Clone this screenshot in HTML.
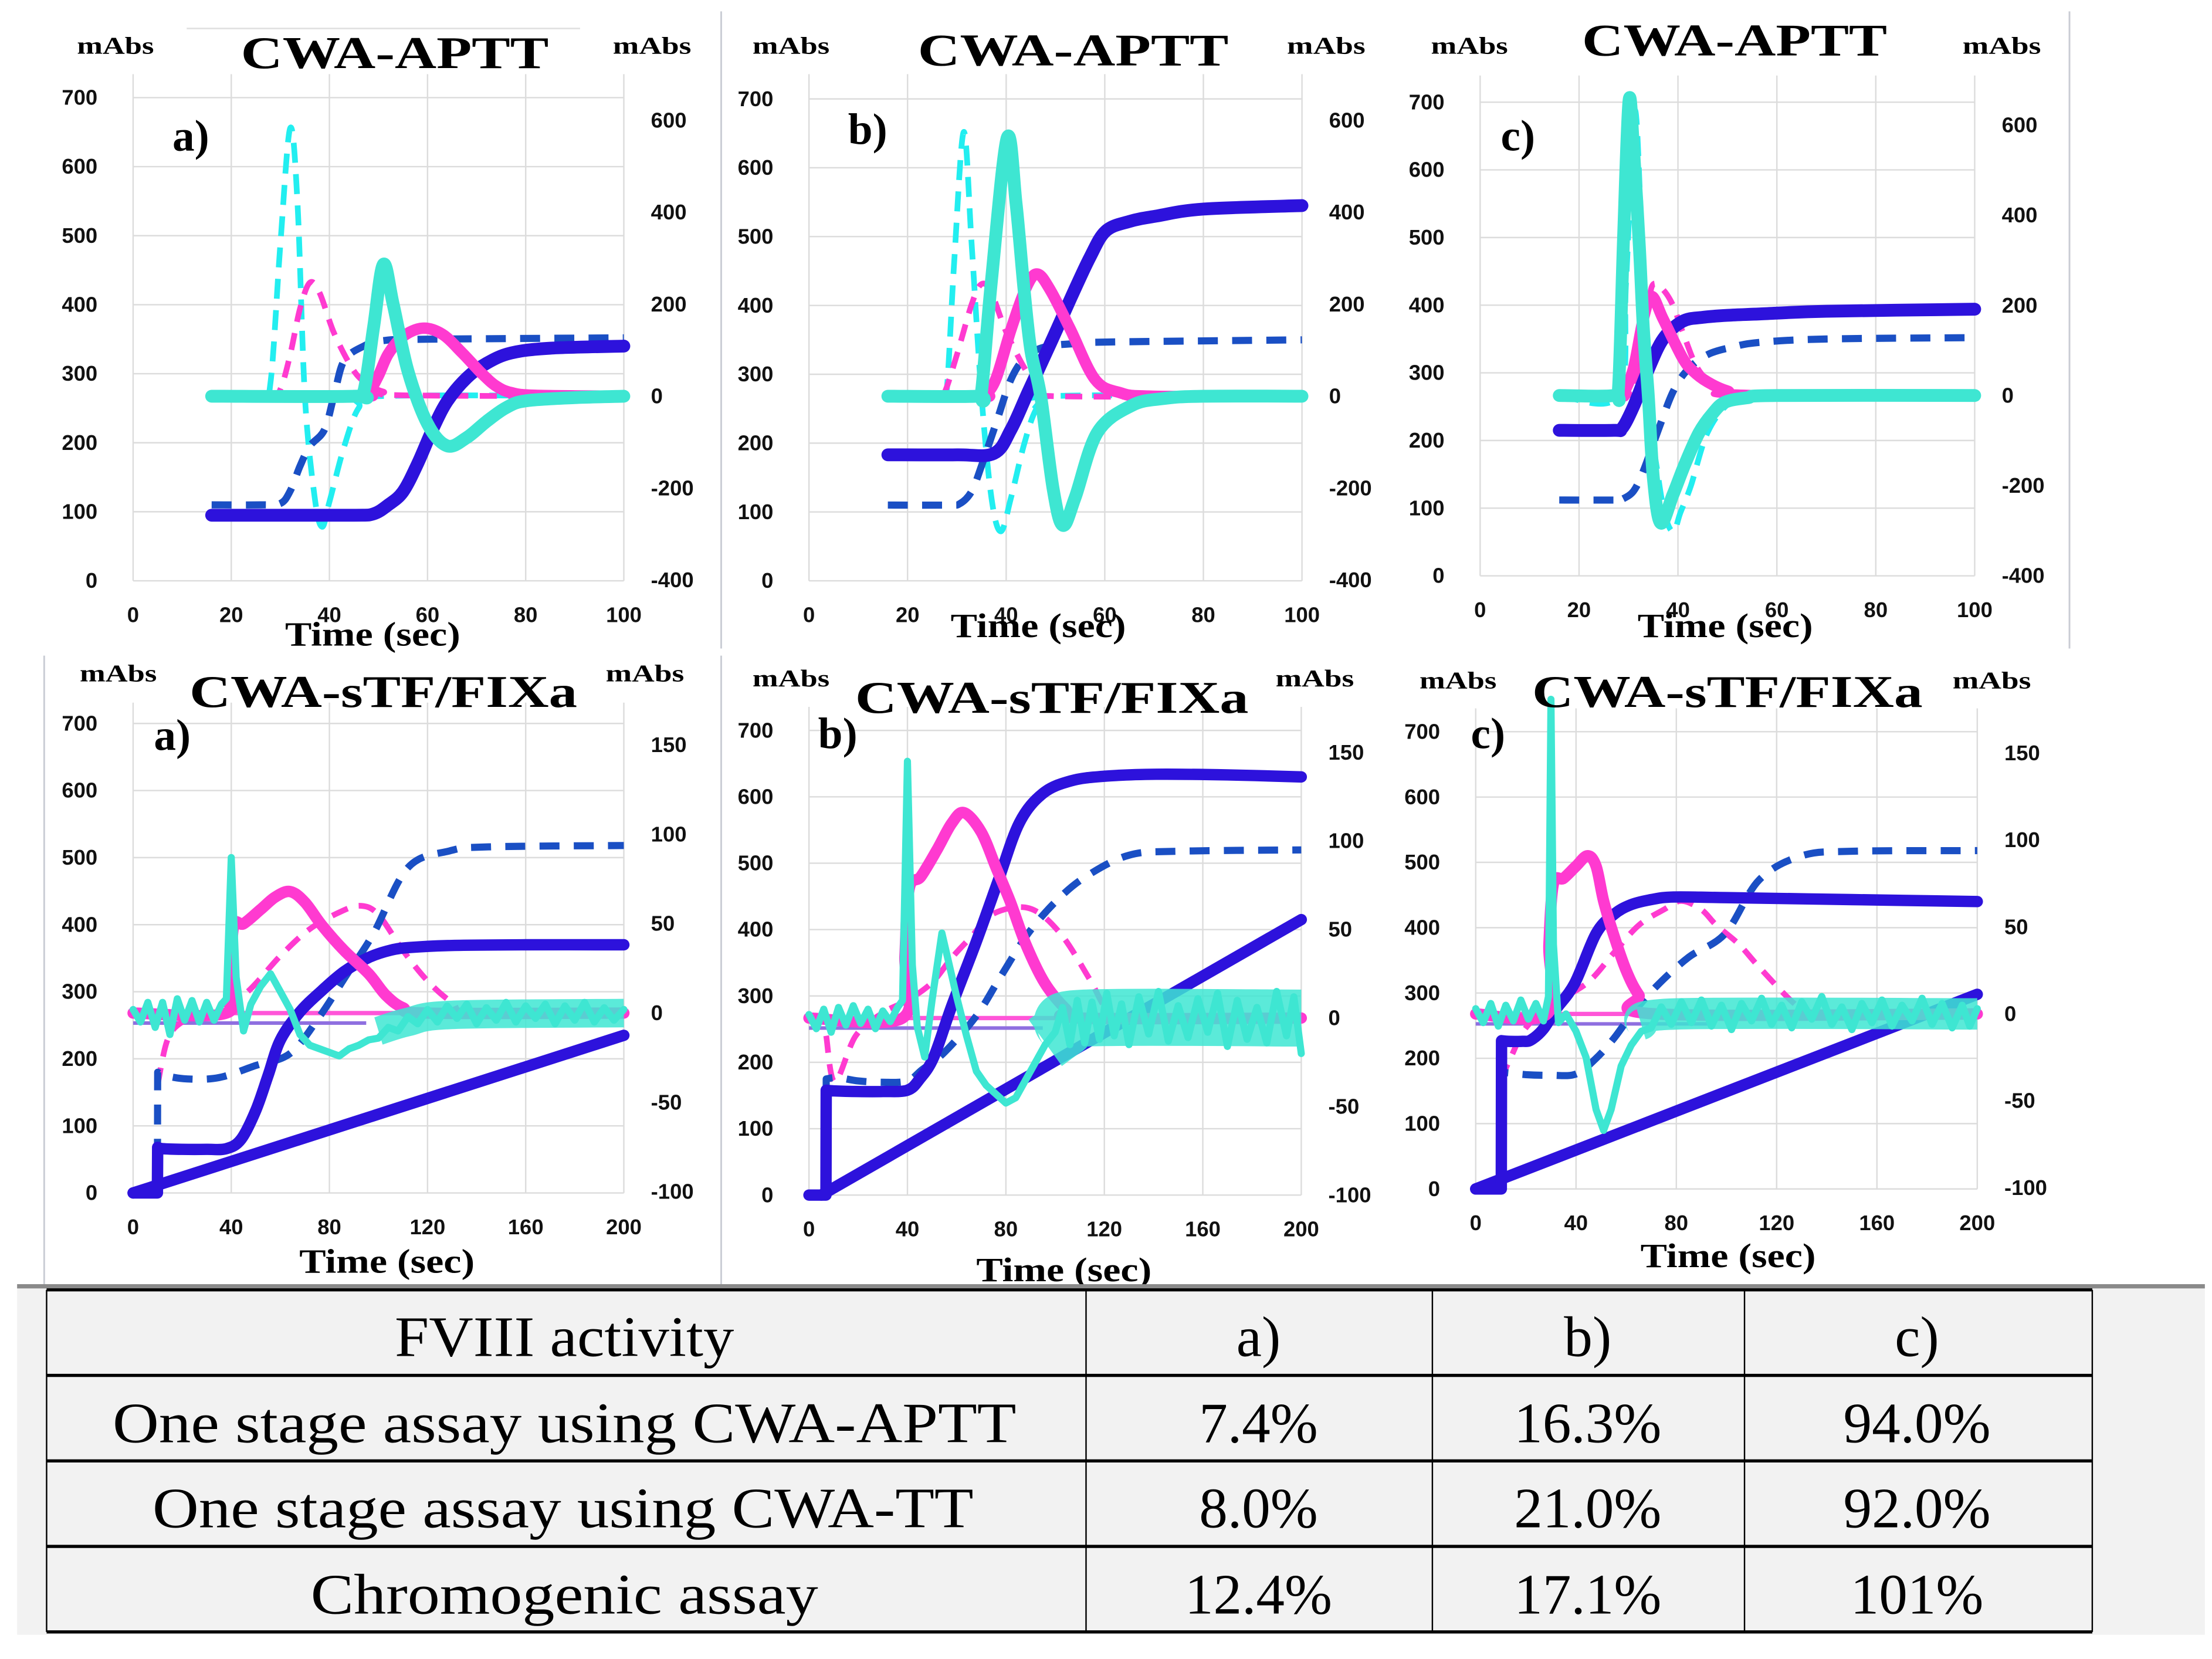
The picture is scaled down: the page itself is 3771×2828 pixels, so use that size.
<!DOCTYPE html>
<html><head><meta charset="utf-8"><style>
html,body{margin:0;padding:0;background:#fff;}
svg{display:block;}
</style></head><body>
<svg id="fig" xmlns="http://www.w3.org/2000/svg" width="3771" height="2828" viewBox="0 0 1552 1164" preserveAspectRatio="none">
<rect x="0" y="0" width="1552" height="1164" fill="#ffffff"/>
<g id="frames" stroke="#c9ccd4" stroke-width="1.2">
<line x1="506" y1="8" x2="506" y2="455"/><line x1="1452" y1="8" x2="1452" y2="455"/>
<line x1="31" y1="460" x2="31" y2="902"/><line x1="506" y1="460" x2="506" y2="902"/>
<line x1="131" y1="20" x2="407" y2="20" stroke="#e2e2e2"/>
</g>
<g id="plots"></g>
<g id="table">
<rect x="12" y="904" width="1535" height="243" fill="#f2f2f2"/>
<rect x="12" y="901" width="1535" height="3" fill="#8a8a8a"/>
<g stroke="#000" stroke-width="2.2"><line x1="32.7" y1="905" x2="1468" y2="905"/><line x1="32.7" y1="965" x2="1468" y2="965"/><line x1="32.7" y1="1025" x2="1468" y2="1025"/><line x1="32.7" y1="1085" x2="1468" y2="1085"/><line x1="32.7" y1="1145" x2="1468" y2="1145"/></g>
<g stroke="#000" stroke-width="1"><line x1="32.7" y1="905" x2="32.7" y2="1145"/><line x1="762" y1="905" x2="762" y2="1145"/><line x1="1005" y1="905" x2="1005" y2="1145"/><line x1="1224" y1="905" x2="1224" y2="1145"/><line x1="1468" y1="905" x2="1468" y2="1145"/></g>
<g font-family="'Liberation Serif',serif" font-size="40" fill="#000" text-anchor="middle">
<text x="396" y="951.5" textLength="238" lengthAdjust="spacingAndGlyphs">FVIII activity</text>
<text x="883" y="951.5">a)</text>
<text x="1114" y="951.5">b)</text>
<text x="1345" y="951.5">c)</text>
<text x="396" y="1012" textLength="634" lengthAdjust="spacingAndGlyphs">One stage assay using CWA-APTT</text>
<text x="883" y="1012">7.4%</text>
<text x="1114" y="1012">16.3%</text>
<text x="1345" y="1012">94.0%</text>
<text x="395" y="1071.7" textLength="576" lengthAdjust="spacingAndGlyphs">One stage assay using CWA-TT</text>
<text x="883" y="1071.7">8.0%</text>
<text x="1114" y="1071.7">21.0%</text>
<text x="1345" y="1071.7">92.0%</text>
<text x="396" y="1132" textLength="356" lengthAdjust="spacingAndGlyphs">Chromogenic assay</text>
<text x="883" y="1132">12.4%</text>
<text x="1114" y="1132">17.1%</text>
<text x="1345" y="1132">101%</text>
</g>
</g>
</svg>
<script>
// ---------- data: top row (CWA-APTT) ----------
const taBlueT=[16,30,45,49,52,55,58,61,64,68,72,77,85,100];
const taBlueV=[95,95,95,97,110,129,170,219,260,294,315,330,337,340];
const taDashT=[16,26,30,32,34,36,39,41,43,47,51,60,100];
const taDashV=[110,110,112,130,166,195,219,270,319,340,348,350,352];
const taMagDT=[16,28,30,32,34,36,38,41,45,48,51,55,100];
const taMagDV=[0,0,15,90,190,247,225,136,55,25,10,2,0];
const taMagT=[16,46,48,50,52,55,59,63,67,71,74,77,82,100];
const taMagV=[0,0,8,45,92,130,148,135,95,50,22,8,2,0];
const taCyanT=[16,45,47,49,51,53,56,60,64,68,72,76,80,90,100];
const taCyanV=[0,0,10,150,287,200,55,-60,-108,-90,-55,-25,-10,-3,0];
const taCyanDT=[16,26,28,30,32,33.5,35,37,38.5,40,43,46,50,100];
const taCyanDV=[0,0,30,330,583,420,0,-220,-284,-230,-110,-25,0,0];

const tbBlueT=[16,30,37.5,41,44.5,49,53.2,57,60.2,65,70.6,80,100];
const tbBlueV=[183,183,185,220,275,345,412,470,508,522,530,540,545];
const tbDashT=[16,28,30.6,33,35,38,41,44,48,55,62,100];
const tbDashV=[110,110,112,130,167,230,293,325,340,345,347,350];
const tbMagDT=[16,26,27.5,30,33,35,37,40,44,47,50,100];
const tbMagDV=[0,0,8,90,200,244,225,140,56,15,0,0];
const tbMagT=[16,35,36,38,41,44,46.3,49,53,58,63,70,100];
const tbMagV=[0,0,5,40,146,235,266,230,146,37,8,0,0];
const tbCyanT=[16,34,35,37,40.2,42,43.6,45,47,49.5,51.5,54,58.5,65.5,72,80,100];
const tbCyanV=[0,0,10,250,562,420,235,100,0,-200,-281,-220,-79,-20,-5,0,0];
const tbCyanDT=[16,27,28,29.5,31.4,33,35,37,38.9,41,43.6,46,48.9,100];
const tbCyanDV=[0,0,20,300,575,330,0,-220,-294,-220,-106,-30,0,0];

const tcBlueT=[16,27,28.7,31,33.9,37,40.9,45,50,56.5,70,100];
const tcBlueV=[215,215,218,250,303,350,376,382,385,387,391,394];
const tcDashT=[16,28,28.7,31,33,36,39,42,46,51,56.5,70,100];
const tcDashV=[112,112,113,125,155,215,272,305,327,338,345,350,352];
const tcMagDT=[16,30,32,34,35,37,39,41,44,48,52,100];
const tcMagDV=[0,0,60,200,247,235,200,140,60,15,0,0];
const tcMagT=[16,28,29,31,33,34.7,37,40.9,43,46,50,55,100];
const tcMagV=[0,0,5,60,170,220,170,84,55,30,10,0,0];
const tcCyanT=[16,27,28,29,30.1,31,32.2,33,34,35,36.5,39,41.5,44.3,47,49.5,54,60,100];
const tcCyanV=[0,0,20,350,654,550,330,150,0,-180,-283,-220,-150,-82,-40,-15,-5,0,0];
const tcCyanDT=[16,28,29.5,31.2,32.5,34,36,37.5,39.1,40.5,42.6,46,50.6,56,100];
const tcCyanDV=[0,0,250,631,400,0,-180,-270,-302,-260,-201,-82,-15,0,0];

// ---------- data: bottom row (CWA-sTF/FIXa) ----------
const baBlueT=[0,9.9,10,12,20,30,38,44,50,55,60,68,77,86,96,105,113,130,160,200];
const baBlueV=[0,0,68,66,65,65,66,80,123,175,228,270,302,330,351,362,366,369,370,370];
const baLineT=[0,200];
const baLineV=[0,235];
const baDashT=[9.9,10,13,22,35,50,64,76,87,98,112,129,145,200];
const baDashV=[0,180,175,170,172,190,208,263,325,387,485,510,516,518];
const baMagDT=[10,14,20,30,45,60,72,85,93,100,110,120,130,140,200];
const baMagDV=[-40,-15,-5,0,10,32,47,57,60,55,35,18,6,0,0];
const baMagT=[0,38,39.5,41,45,52,58,64,70,77,86,96,103,110,120,200];
const baMagV=[0,0,20,49,50,58,65,68,62,49,35,22,10,3,0,0];
const baCyanT=[0,3,6,9,12,15,18,21,24,27,30,33,36,38,40,42,45,48,52,56,60,64,68,72,76,80,84,88,92,96,100,104,108,112,116,120,124,128,132,136,140,144,148,152,156,160,164,168,172,176,180,184,188,192,196,200];
const baCyanV=[2,-5,6,-8,6,-12,8,-4,7,-5,6,-4,5,8,87,20,-10,5,15,22,12,2,-12,-18,-20,-22,-24,-20,-18,-15,-14,-8,-10,-2,-6,2,-5,4,-3,5,-6,3,-4,6,-5,4,-3,5,-6,4,-4,6,-5,3,-4,2];
const baBandT=[100,112,130,200];
const baBandV=[-10,-5,-1,0];

const bbBlueT=[0,6.9,7,10,20,30,40,45,50.7,58,68,77,85.5,95,106.4,120,141,170,200];
const bbBlueV=[0,0,158,157,156,156,158,175,208,285,382,475,561,605,624,631,634,633,630];
const bbLineT=[5,200];
const bbLineV=[0,415];
const bbDashT=[6.9,7,11.6,20,30,40,46,55,68,78,89,101,113,130,150,200];
const bbDashV=[0,175,177,172,170,172,189,215,270,330,394,445,481,512,518,520];
const bbMagDT=[7,10.5,19,30,40,50,58,66,75,89.5,102,114,121,130,200];
const bbMagDV=[-10,-36,-10,3,10,20,34,46,59,62,48,22,5,0,0];
const bbMagT=[0,38,39,40.7,45.5,52,58,63,70,76,81.7,88,95.7,104.4,110,200];
const bbMagV=[0,0,35,73,80,95,110,116,105,85,66,42,20,5,0,0];
const bbCyanT=[0,3,6,9,12,15,18,21,24,27,30,33,36,38,40,42,44,47,50,54,57,60,64,68,72,76,80,84,88,92,96,100,103,106,109,112,115,118,121,124,127,130,134,138,142,146,150,154,158,162,166,170,174,178,182,186,190,194,197,200];
const bbCyanV=[2,-6,5,-8,6,-4,7,-3,5,-6,4,-2,6,10,145,30,-5,-22,10,48,30,12,-10,-30,-38,-43,-48,-45,-35,-25,-15,-8,6,-15,10,-14,9,-12,14,-10,8,-15,12,-9,15,-13,7,-11,11,-8,14,-16,10,-12,6,-14,15,-10,12,-20];
const bbBandT=[96,104,112,200];
const bbBandV=[-14,-6,0,0];

const bcBlueT=[0,10.2,10.3,13,18.6,22,27,32,39.5,48,55,61.8,70,78.9,100,150,200];
const bcBlueV=[0,0,227,226,226,228,245,275,315,391,420,435,443,447,446,443,440];
const bcLineT=[0,200];
const bcLineV=[0,298];
const bcDashT=[10,10.1,12,20,30,40,48,55,61.8,72,85,99.5,113,130,150,200];
const bcDashV=[0,176,178,175,174,176,200,230,265,310,355,391,473,510,517,518];
const bcMagDT=[10,14,20,30,44.6,55,65,75,82,90,96,105,113,127,135,200];
const bcMagDV=[-38,-25,-8,5,18,35,51,60,65,60,51,40,27,6,0,0];
const bcMagT=[0,28.5,29.2,31,35,40,44.6,48,51,54.9,60,65,72,200];
const bcMagV=[0,0,40,75,78,85,91,85,65,46,25,11,0,0];
const bcCyanT=[0,3,6,9,12,15,18,21,24,27,29,30,31,33,36,40,44,48,51,54,58,62,66,70,74,78,82,86,90,94,98,102,106,110,114,118,122,126,130,134,138,142,146,150,154,158,162,166,170,174,178,182,186,190,194,197,200];
const bcCyanV=[3,-5,6,-7,5,-4,8,-3,6,-4,10,181,40,-5,0,-10,-25,-55,-67,-55,-30,-18,-10,-8,4,-6,7,-5,8,-7,5,-9,6,-4,9,-6,5,-8,7,-3,10,-6,4,-9,6,-5,8,-7,5,-4,9,-6,6,-8,5,-7,3];
const bcBandT=[66,80,200];
const bcBandV=[-6,0,0];

// ---------- tick labels ----------
const topXTicks=[0,20,40,60,80,100];
const botXTicks=[0,40,80,120,160,200];
const leftTicks=[0,100,200,300,400,500,600,700];
const topRightTicks=[-400,-200,0,200,400,600];
const botRightTicks=[-100,-50,0,50,100,150];

const NS='http://www.w3.org/2000/svg';
const root=document.getElementById('plots');
const C={blue:'#2d12dc',dash:'#1a4fc4',mag:'#ff3ad0',cyan:'#3ee6d2',cyanD:'#22eef0'};

function mk(tag,attrs,parent){
  const el=document.createElementNS(NS,tag);
  for(const k in attrs) el.setAttribute(k,attrs[k]);
  parent.appendChild(el);
  return el;
}
function smoothPath(pts){
  let d='M'+pts[0][0].toFixed(2)+','+pts[0][1].toFixed(2);
  for(let i=0;i<pts.length-1;i++){
    let p0=pts[i-1]||pts[i];const p1=pts[i],p2=pts[i+1];let p3=pts[i+2]||pts[i+1];
    if(Math.abs(p2[0]-p1[0])<1){d+=' L'+p2[0].toFixed(2)+','+p2[1].toFixed(2);continue;}
    if(Math.abs(p1[0]-p0[0])<1) p0=p1;
    if(Math.abs(p3[0]-p2[0])<1) p3=p2;
    const c1=[p1[0]+(p2[0]-p0[0])/6,p1[1]+(p2[1]-p0[1])/6];
    const c2=[p2[0]-(p3[0]-p1[0])/6,p2[1]-(p3[1]-p1[1])/6];
    d+=' C'+c1[0].toFixed(2)+','+c1[1].toFixed(2)+' '+c2[0].toFixed(2)+','+c2[1].toFixed(2)+' '+p2[0].toFixed(2)+','+p2[1].toFixed(2);
  }
  return d;
}
function linePath(pts){return 'M'+pts.map(p=>p[0].toFixed(2)+','+p[1].toFixed(2)).join(' L');}

function drawPanel(cfg){
  const g=mk('g',{},root);
  
  
  const xs=t=>cfg.x0+(t/cfg.tmax)*(cfg.x1-cfg.x0);
  const yL=v=>cfg.yL0-v*(cfg.yL0-cfg.yL700)/700;
  const yR=v=>cfg.yR0-v*cfg.rs;
  const grid=mk('g',{stroke:'#dcdcdc','stroke-width':1},g);
  
  
  leftTicks.forEach(v=>mk('line',{x1:cfg.x0,x2:cfg.x1,y1:yL(v),y2:yL(v)},grid));
  cfg.xt.forEach(t=>mk('line',{x1:xs(t),x2:xs(t),y1:cfg.top,y2:yL(0)},grid));
  const lab=mk('g',{'font-family':"'Liberation Sans',sans-serif",'font-size':15,'font-weight':'bold',fill:'#111'},g);
  
  
  leftTicks.forEach(v=>{const t=mk('text',{x:cfg.x0-25,y:yL(v)+5,'text-anchor':'end'},lab);t.textContent=v;});
  cfg.rt.forEach(v=>{const t=mk('text',{x:cfg.x1+19,y:yR(v)+5,'text-anchor':'start'},lab);t.textContent=v;});
  cfg.xt.forEach(v=>{const t=mk('text',{x:xs(v),y:yL(0)+29,'text-anchor':'middle'},lab);t.textContent=v;});
  if(cfg.zero){
    const z1=mk('line',{x1:cfg.x0,x2:cfg.x1,y1:yR(0),y2:yR(0),stroke:'#ff55d8','stroke-width':3},g);
    
    
    const z2=mk('line',{x1:cfg.x0,x2:xs(95),y1:yR(0)+7,y2:yR(0)+7,stroke:'#8f6fe0','stroke-width':2.5},g);
    
    
  }
  cfg.series.forEach(s=>{
    const pts=s.t.map((t,i)=>[xs(t),s.ax==='R'?yR(s.v[i]):yL(s.v[i])]);
    const p=mk('path',{d:s.sm?smoothPath(pts):linePath(pts),fill:'none',stroke:s.c,'stroke-width':s.w,'stroke-linecap':s.dash||s.band?'butt':'round','stroke-linejoin':'round'},g);
    if(s.dash) p.setAttribute('stroke-dasharray',s.dash);
    if(s.band) p.setAttribute('opacity','0.85');
    
    
  });
  const tx=mk('g',{'font-family':"'Liberation Serif',serif",'font-weight':'bold',fill:'#000'},g);
  const t1=mk('text',{x:cfg.title[0],y:cfg.title[1],'font-size':32,textLength:cfg.title[2],lengthAdjust:'spacingAndGlyphs'},tx);
  t1.textContent=cfg.titleText;
  
  
  const m1=mk('text',{x:cfg.mL[0],y:cfg.mL[1],'font-size':17,textLength:54,lengthAdjust:'spacingAndGlyphs'},tx);
  m1.textContent='mAbs';
  
  
  const m2=mk('text',{x:cfg.mR[0],y:cfg.mR[1],'font-size':17,textLength:55,lengthAdjust:'spacingAndGlyphs'},tx);
  m2.textContent='mAbs';
  
  
  const pl=mk('text',{x:cfg.let[0],y:cfg.let[1],'font-size':31},tx);
  pl.textContent=cfg.letter;
  
  
  const xt=mk('text',{x:cfg.xl[0],y:cfg.xl[1],'font-size':24,textLength:123,lengthAdjust:'spacingAndGlyphs'},tx);
  xt.textContent='Time (sec)';
  
  
}
function topSeries(p){return [
  {n:'cwa-tt-second-derivative',t:p[10],v:p[11],ax:'R',c:C.cyanD,w:4,dash:'14 8',sm:1},
  {n:'cwa-tt-absorbance',t:p[2],v:p[3],ax:'L',c:C.dash,w:5,dash:'14 10',sm:1},
  {n:'cwa-tt-first-derivative',t:p[4],v:p[5],ax:'R',c:C.mag,w:4,dash:'12 8',sm:1},
  {n:'aptt-absorbance',t:p[0],v:p[1],ax:'L',c:C.blue,w:9,sm:1},
  {n:'aptt-first-derivative',t:p[6],v:p[7],ax:'R',c:C.mag,w:8,sm:1},
  {n:'aptt-second-derivative',t:p[8],v:p[9],ax:'R',c:C.cyan,w:9,sm:1}];}
function botSeries(p,bw){return [
  {n:'cwa-tt-first-derivative',t:p[6],v:p[7],ax:'R',c:C.mag,w:4,dash:'12 8',sm:1},
  {n:'cwa-tt-absorbance',t:p[4],v:p[5],ax:'L',c:C.dash,w:5,dash:'14 10',sm:1},
  {n:'reference-line',t:p[2],v:p[3],ax:'L',c:C.blue,w:8,sm:0},
  {n:'stf-absorbance',t:p[0],v:p[1],ax:'L',c:C.blue,w:8,sm:1},
  {n:'stf-first-derivative',t:p[8],v:p[9],ax:'R',c:C.mag,w:8,sm:1},
  {n:'stf-noise-band',t:p[12],v:p[13],ax:'R',c:C.cyan,w:bw,sm:1,band:1},
  {n:'stf-second-derivative',t:p[10],v:p[11],ax:'R',c:C.cyan,w:5,sm:0}];}

drawPanel({id:'aptt-a',x0:93.4,x1:437.7,tmax:100,yL0:407.5,yL700:68.5,yR0:278,rs:0.3225,top:52,xt:topXTicks,rt:topRightTicks,
  series:topSeries([taBlueT,taBlueV,taDashT,taDashV,taMagDT,taMagDV,taMagT,taMagV,taCyanT,taCyanV,taCyanDT,taCyanDV]),
  titleText:'CWA-APTT',title:[169,47.7,216],mL:[54,37.6],mR:[430,37.6],letter:'a)',let:[121,105.5],xl:[200,453]});
drawPanel({id:'aptt-b',x0:567.6,x1:913.5,tmax:100,yL0:407.5,yL700:69.4,yR0:278,rs:0.3225,top:52,xt:topXTicks,rt:topRightTicks,
  series:topSeries([tbBlueT,tbBlueV,tbDashT,tbDashV,tbMagDT,tbMagDV,tbMagT,tbMagV,tbCyanT,tbCyanV,tbCyanDT,tbCyanDV]),
  titleText:'CWA-APTT',title:[644,46,218],mL:[528,37.6],mR:[903,37.6],letter:'b)',let:[595,101],xl:[667,447]});
drawPanel({id:'aptt-c',x0:1038.5,x1:1385.5,tmax:100,yL0:404,yL700:71.7,yR0:277.5,rs:0.316,top:53,xt:topXTicks,rt:topRightTicks,
  series:topSeries([tcBlueT,tcBlueV,tcDashT,tcDashV,tcMagDT,tcMagDV,tcMagT,tcMagV,tcCyanT,tcCyanV,tcCyanDT,tcCyanDV]),
  titleText:'CWA-APTT',title:[1110,39,214],mL:[1004,37.6],mR:[1377,37.6],letter:'c)',let:[1053,105.5],xl:[1149,447]});
drawPanel({id:'stf-a',x0:93.4,x1:437.7,tmax:200,yL0:837,yL700:507.6,yR0:710.8,rs:1.254,top:493,xt:botXTicks,rt:botRightTicks,zero:1,
  series:botSeries([baBlueT,baBlueV,baLineT,baLineV,baDashT,baDashV,baMagDT,baMagDV,baMagT,baMagV,baCyanT,baCyanV,baBandT,baBandV],20),
  titleText:'CWA-sTF/FIXa',title:[133,496,272],mL:[56,478],mR:[425,478],letter:'a)',let:[108,526],xl:[210,893]});
drawPanel({id:'stf-b',x0:567.6,x1:913,tmax:200,yL0:838.5,yL700:512.5,yR0:714.3,rs:1.2424,top:496,xt:botXTicks,rt:botRightTicks,zero:1,
  series:botSeries([bbBlueT,bbBlueV,bbLineT,bbLineV,bbDashT,bbDashV,bbMagDT,bbMagDV,bbMagT,bbMagV,bbCyanT,bbCyanV,bbBandT,bbBandV],40),
  titleText:'CWA-sTF/FIXa',title:[600,500,276],mL:[528,481.6],mR:[895,481.6],letter:'b)',let:[574,525],xl:[685,899]});
drawPanel({id:'stf-c',x0:1035.4,x1:1387.3,tmax:200,yL0:834.2,yL700:513.4,yR0:711.4,rs:1.2196,top:497,xt:botXTicks,rt:botRightTicks,zero:1,
  series:botSeries([bcBlueT,bcBlueV,bcLineT,bcLineV,bcDashT,bcDashV,bcMagDT,bcMagDV,bcMagT,bcMagV,bcCyanT,bcCyanV,bcBandT,bcBandV],22),
  titleText:'CWA-sTF/FIXa',title:[1075,496,274],mL:[996,483],mR:[1370,483],letter:'c)',let:[1032,525],xl:[1151,889]});
</script>
</body></html>
